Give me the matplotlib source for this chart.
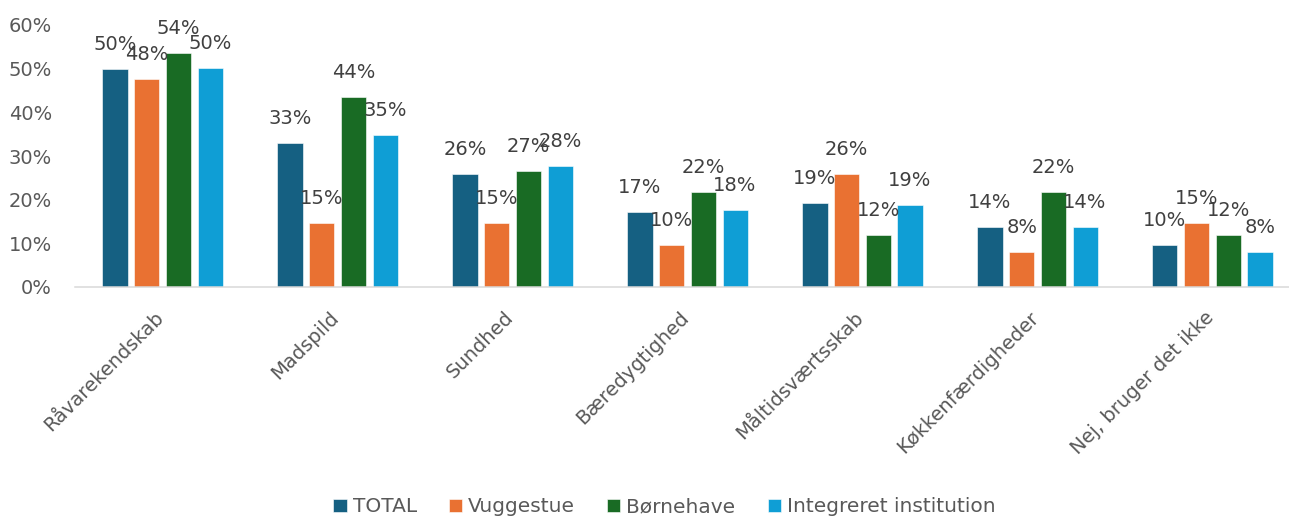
import matplotlib.pyplot as plt
from matplotlib.ticker import PercentFormatter
from matplotlib.transforms import ScaledTranslation

# Data
categories = ['Råvarekendskab', 'Madspild', 'Sundhed', 'Bæredygtighed',
              'Måltidsværtsskab', 'Køkkenfærdigheder', 'Nej, bruger det ikke']
series_names = ['TOTAL', 'Vuggestue', 'Børnehave', 'Integreret institution']
total = [49.9, 33.0, 25.9, 17.1, 19.2, 13.7, 9.6]
vuggestue = [47.6, 14.7, 14.7, 9.6, 25.9, 8.0, 14.7]
boernehave = [53.5, 43.6, 26.6, 21.7, 12.0, 21.7, 12.0]
integreret = [50.1, 34.9, 27.6, 17.7, 18.8, 13.7, 8.0]
colors = ['#156082', '#E97132', '#196B24', '#0F9ED5']

plt.rcParams['font.family'] = ['DejaVu Sans']

W, H = 1289, 516
fig = plt.figure(figsize=(W / 100, H / 100), dpi=100)
ax = fig.add_axes([75 / W, (H - 287) / H, (1300 - 75) / W, 262 / H])

pitch = 0.181
width = 0.143
xs = range(len(categories))
for i, (name, vals, c) in enumerate(zip(series_names,
                                        [total, vuggestue, boernehave, integreret],
                                        colors)):
    pos = [x + (i - 1.5) * pitch for x in xs]
    bars = ax.bar(pos, vals, width, color=c, label=name,
                  edgecolor='white', linewidth=0.4)
    for b, v in zip(bars, vals):
        ax.annotate(f'{round(v):d}%', (b.get_x() + b.get_width() / 2, v),
                    xytext=(0, 13.7), textcoords='offset points',
                    ha='center', va='baseline', fontsize=14, color='#404040')

ax.set_xlim(-0.5, 6.5)
ax.set_ylim(0, 60)
ax.set_yticks(range(0, 61, 10))
ax.yaxis.set_major_formatter(PercentFormatter(decimals=0))
ax.tick_params(axis='y', length=0, pad=16.5, labelsize=14, labelcolor='#595959')
ax.set_xticks(list(xs))
ax.set_xticklabels(categories, rotation=45, ha='right')
ax.tick_params(axis='x', length=0, pad=15, labelsize=14, labelcolor='#595959')
for lbl in ax.get_xticklabels():
    lbl.set_transform(lbl.get_transform() + ScaledTranslation(5 / 100, 0, fig.dpi_scale_trans))

for s in ['left', 'right', 'top']:
    ax.spines[s].set_visible(False)
ax.spines['bottom'].set_color('#d9d9d9')
ax.spines['bottom'].set_linewidth(1.1)

leg = fig.legend(loc='center', bbox_to_anchor=(664.5 / W, 9 / H), ncol=4,
                 frameon=False, fontsize=14.5, handlelength=0.65, handleheight=0.65,
                 handletextpad=0.3, columnspacing=1.6)
for t in leg.get_texts():
    t.set_color('#595959')

fig.savefig('out.png', dpi=100)
